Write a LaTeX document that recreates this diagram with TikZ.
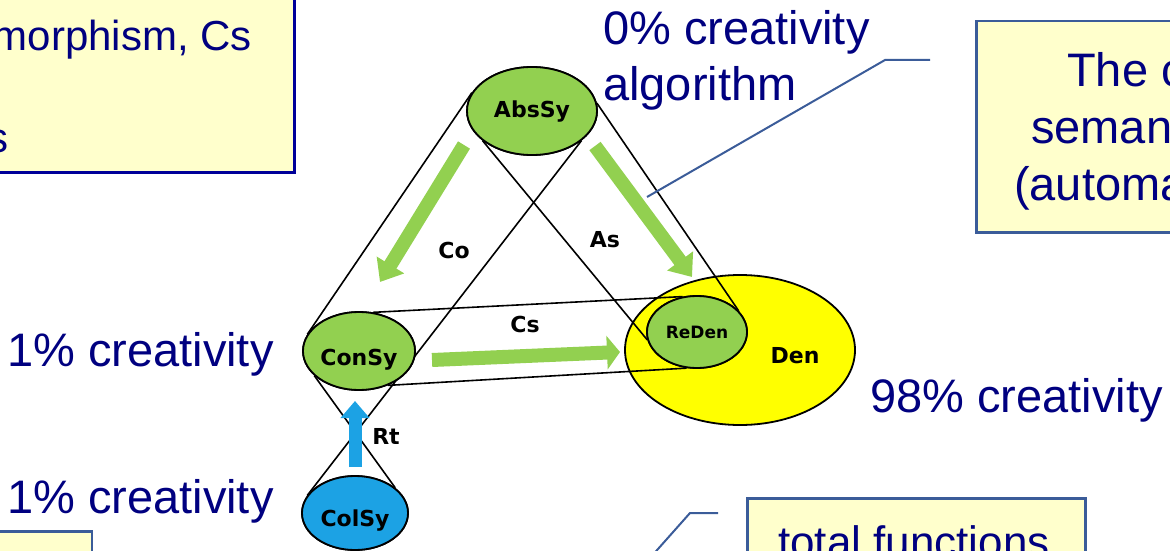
\documentclass[tikz,border=0pt]{standalone}
\usepackage{fontspec}
\setmainfont{Liberation Sans}
\newfontfamily\tagfont{DejaVu Sans}
\usepackage{tikz}
\usetikzlibrary{positioning,arrows.meta,shapes.geometric,calc}
\definecolor{navyink}{HTML}{000080}
\definecolor{notefill}{HTML}{FFFFCC}
\definecolor{noteedge}{HTML}{3B5C99}
\definecolor{boxedge}{HTML}{000099}
\definecolor{setgreen}{HTML}{92D050}
\definecolor{setblue}{HTML}{1CA2E4}
\definecolor{denyellow}{HTML}{FFFF00}

\begin{document}
\begin{tikzpicture}[
  x=1pt, y=-1pt,
  set/.style={ellipse, draw=black, line width=1.8pt, inner sep=0pt, fill=setgreen},
  tag/.style={inner sep=0pt, font=\tagfont\bfseries\fontsize{22}{24}\selectfont},
  tube/.style={black, line width=1.6pt},
  fat/.style={line width=14pt, -{Triangle[width=31pt,length=20pt]}, color=setgreen},
  note/.style={fill=notefill, draw=noteedge, line width=2.5pt, inner sep=0pt},
  big/.style={text=navyink, inner sep=0pt, font=\fontsize{47}{52}\selectfont},
  boxtext/.style={text=navyink, inner sep=0pt, font=\fontsize{42}{46}\selectfont},
  call/.style={draw=noteedge, line width=2pt}
]
  \useasboundingbox (0,0) rectangle (1170,551);
  \clip (0,0) rectangle (1170,551);

  % Note boxes (cut by the frame)
  \node[note, draw=boxedge, line width=3pt, minimum width=380, minimum height=200, anchor=south east] (noteTL) at (296,174) {};
  \node[note, minimum width=300, minimum height=211, anchor=north west] (noteTR) at (975,20) {};
  \node[note, minimum width=338, minimum height=100, anchor=north west] (noteBR) at (746,497) {};
  \node[note, minimum width=150, minimum height=60, anchor=north east] (noteBL) at (93,530) {};

  \node[boxtext, anchor=base east] (tl1) at (252,51) {morphism, Cs};
  \node[boxtext, anchor=base east] (tl2) at (9,152) {s};
  \node[big, anchor=base west] (tr1) at (1067,87) {The c};
  \node[big, anchor=base west] (tr2) at (1031,143) {seman};
  \node[big, anchor=base west] (tr3) at (1014,200) {(automa};
  \node[boxtext, anchor=base west, font=\fontsize{44}{48}\selectfont] (br1) at (778,557) {total functions};

  % Creativity labels
  \node[big, anchor=base west] (zero) at (603,45) {0\% creativity};
  \node[big, anchor=base west] (algo) at (603,100) {algorithm};
  \node[big, anchor=base west] (oneA) at (7,366) {1\% creativity};
  \node[big, anchor=base west] (oneB) at (7,513) {1\% creativity};
  \node[big, anchor=base west] (ninety) at (870,412) {98\% creativity};

  % Denotation
  \node[set, fill=denyellow, minimum width=230, minimum height=150] (den) at (740,350) {};

  % Sets (shapes only, lines go behind them)
  \path (532,111) coordinate (absC) (359,351) coordinate (conC)
        (697,332) coordinate (redC) (355,513) coordinate (colC);
  \node[set, minimum width=130, minimum height=88] (abs) at (absC) {};
  \node[set, minimum width=112, minimum height=78] (con) at (conC) {};
  \node[set, minimum width=100, minimum height=72] (red) at (redC) {};
  \node[set, fill=setblue, minimum width=106, minimum height=74] (col) at (colC) {};

  % Tubes
  \draw[tube] (abs.163) -- (con.162);
  \draw[tube] (abs.-31) -- (col.160);
  \draw[tube] (abs.-149) -- (red.189);
  \draw[tube] (abs.7) -- (red.27);
  \draw[tube] (con.70) -- (red.112);
  \draw[tube] (con.-50) -- (red.-106);
  \draw[tube] (con.-151) -- (col.32);

  % Sets again on top of the tubes
  \node[set, minimum width=130, minimum height=88] (absTop) at (absC) {};
  \node[set, minimum width=112, minimum height=78] (conTop) at (conC) {};
  \node[set, minimum width=100, minimum height=72] (redTop) at (redC) {};
  \node[set, fill=setblue, minimum width=106, minimum height=74] (colTop) at (colC) {};

  % Set names
  \node[tag] (absLab) at (532,112) {AbsSy};
  \node[tag] (conLab) at (359,360) {ConSy};
  \node[tag, font=\tagfont\bfseries\fontsize{17}{19}\selectfont] (redLab) at (697,332) {ReDen};
  \node[tag] (denLab) at (795,356) {Den};
  \node[tag] (colLab) at (355,521) {ColSy};

  % Arrows
  \coordinate (coS) at (464,145);  \coordinate (coE) at (380,282);
  \coordinate (asS) at (595,146);  \coordinate (asE) at (692,277);
  \coordinate (csS) at (432,360);  \coordinate (csE) at (620,352);
  \coordinate (rtS) at (355,467);  \coordinate (rtE) at (355,401);
  \draw[fat] (coS) -- (coE);
  \draw[fat] (asS) -- (asE);
  \draw[fat, -{Triangle[width=33pt,length=13pt]}] (csS) -- (csE);
  \draw[fat, color=setblue, line width=13pt, -{Triangle[width=28pt,length=17pt]}] (rtS) -- (rtE);

  \node[tag] (coLab) at (454,250) {Co};
  \node[tag] (asLab) at (605,240) {As};
  \node[tag] (csLab) at (525,324) {Cs};
  \node[tag] (rtLab) at (386,436) {Rt};

  % Callouts
  \coordinate (ptrA) at (647,197);  \coordinate (kneeA) at (885,60);  \coordinate (endA) at (930,60);
  \coordinate (ptrB) at (650,558);  \coordinate (kneeB) at (690,513); \coordinate (endB) at (718,513);
  \draw[call] (ptrA) -- (kneeA) -- (endA);
  \draw[call] (ptrB) -- (kneeB) -- (endB);
\end{tikzpicture}
\end{document}
